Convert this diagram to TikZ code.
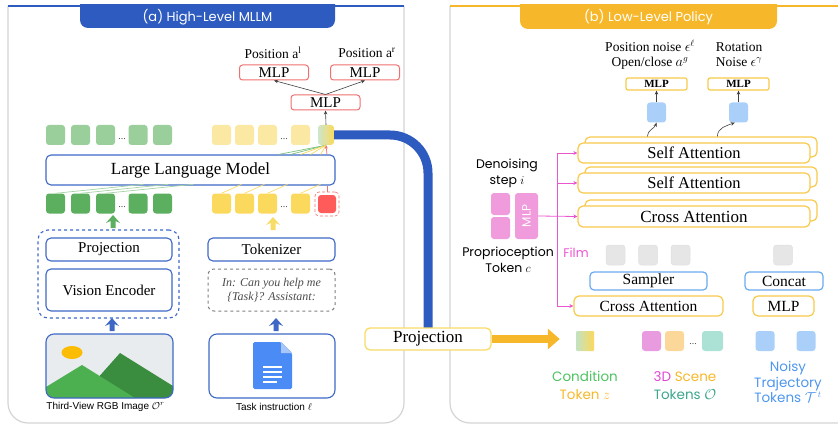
\documentclass[tikz,border=0pt]{standalone}
\usepackage{fontspec}
\setmainfont{Liberation Serif}
\setsansfont{Liberation Sans}
\newfontfamily\popfont{Poppins}
\usepackage{amsmath}
\usepackage{amssymb}
\usepackage{graphicx}
\usepackage{xcolor}
\usetikzlibrary{arrows.meta,calc}
\definecolor{dblue}{HTML}{2E5BBF}
\definecolor{bblue}{HTML}{3D68C6}
\definecolor{dyellow}{HTML}{F6B82A}
\definecolor{byellow}{HTML}{F8C94A}
\definecolor{pyellow}{HTML}{F7DC67}
\definecolor{lgreen}{HTML}{9ACE9A}
\definecolor{dgreen}{HTML}{5BAF5E}
\definecolor{lyellow}{HTML}{FBE8A2}
\definecolor{myellow}{HTML}{FBD95C}
\definecolor{tred}{HTML}{FF5B5B}
\definecolor{rline}{HTML}{F07070}
\definecolor{lblue}{HTML}{AACFF8}
\definecolor{sblue}{HTML}{6AAAF0}
\definecolor{ppink}{HTML}{F09BDC}
\definecolor{filmpink}{HTML}{EC55D2}
\definecolor{panelgray}{HTML}{D4D4D4}
\definecolor{docblue}{HTML}{4B8BF5}
\definecolor{docfold}{HTML}{A7C6FA}
\definecolor{sky}{HTML}{E9ECEF}
\definecolor{sun}{HTML}{FBBC05}
\definecolor{mlight}{HTML}{4CAF50}
\definecolor{mdark}{HTML}{3A8C3E}
\definecolor{cgreen}{HTML}{4DC25F}
\definecolor{cteal}{HTML}{3DA58C}
\definecolor{cmag}{HTML}{E048D2}
\definecolor{cblue}{HTML}{4E96EE}
\definecolor{ggray}{HTML}{E6E6E6}
\definecolor{scmag}{HTML}{E99BE0}
\definecolor{scorg}{HTML}{FCD79A}
\definecolor{scteal}{HTML}{ABE2D5}

\begin{document}
\begin{tikzpicture}[x=1pt, y=-1pt,
    bluebox/.style={draw=bblue, fill=white, line width=1.1pt, rounded corners=5pt, inner sep=0pt, font=\fontsize{15}{15}\selectfont},
    redbox/.style={draw=rline, fill=white, line width=1pt, rounded corners=3pt, inner sep=0pt, minimum width=69pt, minimum height=15pt, font=\fontsize{15}{15}\selectfont},
    yelbox/.style={draw=byellow, fill=white, line width=1.2pt, rounded corners=5pt, inner sep=0pt},
    skybox/.style={draw=sblue, fill=white, line width=1.2pt, rounded corners=4pt, inner sep=0pt, minimum height=18pt, font=\fontsize{15.5}{15.5}\selectfont},
    token/.style={rounded corners=3pt, inner sep=0pt, minimum width=19pt, minimum height=20pt},
    dotsep/.style={font=\fontsize{10}{10}\selectfont, inner sep=0pt, text=black!70},
    lbl/.style={font=\popfont\fontsize{13.5}{18}\selectfont, align=center, inner sep=0pt},
    sfl/.style={font=\popfont\fontsize{12.5}{16}\selectfont, align=center, inner sep=0pt},
    film line/.style={filmpink, line width=0.8pt, -{Stealth[length=4pt,width=4pt]}},
    thin arrow/.style={black!75, line width=0.6pt, -{Stealth[length=4pt,width=3.5pt]}},
    uparr/.pic={\fill[pic actions] (0,-7) -- (7,1) -- (2.5,-1) -- (2.5,6) -- (-2.5,6) -- (-2.5,-1) -- (-7,1) -- cycle;}]
\useasboundingbox (0,0) rectangle (838,425);

% ---- panel frames
\draw[panelgray, line width=1.2pt, rounded corners=20pt] (8,6) -- (8,423) -- (404,423) -- (404,6);
\draw[panelgray, line width=1.2pt, rounded corners=20pt] (840,423) -- (450,423) -- (450,6);
\draw[dblue, line width=2.5pt] (8,6) -- (404,6);
\draw[dyellow, line width=2.5pt] (450,6) -- (838,6);
\begin{scope}
  \clip (0,5) rectangle (838,40);
  \fill[dblue, rounded corners=8pt] (80,-10) rectangle (335,28);
  \fill[dyellow, rounded corners=8pt] (520,-10) rectangle (777,29);
\end{scope}
\node[text=white, font=\popfont\fontsize{13}{13}\selectfont] (ta) at (207.5,17) {(a) High-Level MLLM};
\node[text=white, font=\popfont\fontsize{13}{13}\selectfont] (tb) at (648.5,17.5) {(b) Low-Level Policy};

% ---- (a) high-level MLLM
\node[font=\fontsize{13.5}{13.5}\selectfont] (posl) at (273,53) {Position a\textsuperscript{l}};
\node[font=\fontsize{13.5}{13.5}\selectfont] (posr) at (367,53) {Position a\textsuperscript{r}};
\node[redbox] (mlpl) at (274,72.5) {MLP};
\node[redbox] (mlpr) at (365,72.5) {MLP};
\node[redbox] (mlpm) at (325.5,102.5) {MLP};
\draw[thin arrow] (mlpm.north) -- (mlpl.south);
\draw[thin arrow] (mlpm.north) -- (mlpr.south);

% big link to the low-level policy
\draw[dblue, line width=9pt, rounded corners=38pt] (326,135) -- (428,135) -- (428,329);

\foreach \x [count=\i] in {55.5,80.5,105.5,138,162.5} {
  \node[token, fill=lgreen] (gt\i) at (\x,135) {};
  \node[token, fill=dgreen] (gb\i) at (\x,203.5) {};
}
\foreach \x [count=\i] in {221.5,244.5,267.5,300.5} {
  \node[token, fill=lyellow] (yt\i) at (\x,135) {};
  \node[token, fill=myellow] (yb\i) at (\x,203.5) {};
}
\node[dotsep] at (122,139) {...};
\node[dotsep] at (284,139) {...};
\node[dotsep] at (122,207) {...};
\node[dotsep] at (284,207) {...};
\node[token, minimum width=16pt, left color=lgreen!50, middle color=dgreen!80, right color=myellow] (zt) at (326,135) {};
\node[token, draw=rline, densely dashed, line width=0.6pt, minimum width=24pt, minimum height=24pt, rounded corners=4pt] (rtb) at (327,204) {};
\node[token, fill=tred, minimum width=18pt, minimum height=18pt] (rt) at (327,204) {};

\node[bluebox, minimum width=289pt, minimum height=30pt, font=\fontsize{17}{17}\selectfont] (llm) at (190.5,170) {Large Language Model};

% attention fan
\foreach \i in {1,2,3} \draw[lgreen!90, line width=0.7pt] (gb\i.north) -- ++(88,-9);
\foreach \i in {1,...,4} \draw[myellow!90, line width=0.7pt] (yb\i.north) -- ++(20,-9);
\foreach \d in {57,45} \draw[dgreen!80, line width=0.7pt] ($(llm.north east)+(-\d,0)$) -- (zt.south);
\foreach \d in {35,25,15} \draw[myellow, line width=0.7pt] ($(llm.north east)+(-\d,0)$) -- (zt.south);
\draw[rline, line width=0.7pt] (rtb.north) -- (rtb.north |- llm.south);
\draw[rline, line width=0.7pt, -{Stealth[length=3.5pt,width=3pt]}] (rtb.north |- llm.north) -- (zt.south);
\draw[thin arrow] (zt.north) -- (mlpm.south);

\pic[fill=dgreen] at (113,222) {uparr};
\pic[fill=pyellow] at (273,224) {uparr};
\pic[fill=bblue] at (112,325) {uparr};
\pic[fill=bblue] at (276,325) {uparr};

\node[draw=bblue, dashed, line width=1.1pt, rounded corners=10pt, minimum width=141pt, minimum height=88pt] (vgrp) at (108.5,274) {};
\node[bluebox, minimum width=126pt, minimum height=23pt] (vproj) at (109,249.5) {Projection};
\node[bluebox, minimum width=126pt, minimum height=42pt] (venc) at (109,290) {Vision Encoder};
\node[bluebox, minimum width=127pt, minimum height=23pt] (tokz) at (271.5,249.5) {Tokenizer};
\node[draw=gray, dashed, fill=white, line width=1pt, rounded corners=6pt, minimum width=127pt, minimum height=42pt, align=center,
      text=black!70, font=\itshape\fontsize{12}{14}\selectfont] (prompt) at (271.5,290) {In: Can you help me\\\{Task\}? Assistant:};

% picture icon
\begin{scope}
  \clip[rounded corners=8pt] (46,334) rectangle (173,398);
  \fill[sky] (46,334) rectangle (173,398);
  \fill[sun] (72,352.5) ellipse [x radius=10.5pt, y radius=6.5pt];
  \fill[mdark] (80,398) -- (120,353) -- (173,386) -- (173,398) -- cycle;
  \fill[mlight] (46,387) -- (82,365) -- (135,398) -- (46,398) -- cycle;
\end{scope}
\node[bluebox, fill=none, minimum width=127pt, minimum height=64pt, rounded corners=8pt] (img) at (109.5,366) {};

% document icon
\node[bluebox, minimum width=126pt, minimum height=64pt, rounded corners=8pt] (doc) at (272,366) {};
\fill[docblue, rounded corners=1.5pt] (253,342) -- (281,342) -- (292,353) -- (292,389) -- (253,389) -- cycle;
\fill[docfold] (281,342) -- (292,353) -- (281,353) -- cycle;
\foreach \y/\e in {367/282,372/282,377/282,382/277} \draw[white, line width=1.6pt] (263,\y) -- (\e,\y);

\node[font=\sffamily\fontsize{10}{10}\selectfont] (capi) at (105.5,407) {Third-View RGB Image $\mathcal{O}^r$};
\node[font=\sffamily\fontsize{10}{10}\selectfont] (capd) at (274,407) {Task instruction $\ell$};

% ---- (b) low-level policy
\node[yelbox, draw=pyellow, line width=1.3pt, minimum width=126pt, minimum height=22pt, font=\fontsize{17}{17}\selectfont] (mproj) at (428,339) {Projection};

\node[font=\fontsize{13.5}{15}\selectfont, align=center] (outl) at (650,54.5) {Position noise $\epsilon^{\ell}$\\Open/close $a^{g}$};
\node[font=\fontsize{13.5}{15}\selectfont, align=center] (outr) at (739,55) {Rotation\\Noise $\epsilon^{\gamma}$};
\node[yelbox, rounded corners=2pt, minimum width=61pt, minimum height=12pt, font=\bfseries\fontsize{11}{11}\selectfont] (sm1) at (656.5,84) {MLP};
\node[yelbox, rounded corners=2pt, minimum width=61pt, minimum height=12pt, font=\bfseries\fontsize{11}{11}\selectfont] (sm2) at (738.5,84) {MLP};
\node[token, fill=lblue] (bt1) at (656.5,112.5) {};
\node[token, fill=lblue] (bt2) at (738.5,112.5) {};
\draw[thin arrow] (bt1.north) -- (sm1.south);
\draw[thin arrow] (bt2.north) -- (sm2.south);

% stacked transformer blocks
\node[yelbox, minimum width=232pt, minimum height=20pt] (sa1b) at (701,147) {};
\node[yelbox, minimum width=232pt, minimum height=20pt, font=\fontsize{16.5}{16.5}\selectfont] (sa1) at (694,153) {Self Attention};
\node[yelbox, minimum width=232pt, minimum height=20pt] (sa2b) at (701,177) {};
\node[yelbox, minimum width=232pt, minimum height=20pt, font=\fontsize{16.5}{16.5}\selectfont] (sa2) at (694,183) {Self Attention};
\node[yelbox, minimum width=232pt, minimum height=21pt] (ca1b) at (701,210.5) {};
\node[yelbox, minimum width=232pt, minimum height=21pt, font=\fontsize{17}{17}\selectfont] (ca1) at (694,216.5) {Cross Attention};

\coordinate (w1) at ($(sa1b.north west)+(63,0)$);
\coordinate (w2) at ($(sa1b.north west)+(133,0)$);
\draw[thin arrow] (w1) to[out=90, in=-110] (bt1.south);
\draw[thin arrow] (w2) to[out=90, in=-160] ($(bt2.south west)+(6,0)$);

% conditioning
\node[sfl] (dstep) at (507,173) {Denoising\\step $i$};
\node[token, fill=ppink, minimum width=19pt, minimum height=22pt] (pk1) at (500.5,204) {};
\node[token, fill=ppink, minimum width=19pt, minimum height=22pt] (pk2) at (500.5,228) {};
\node[token, fill=ppink, minimum width=23pt, minimum height=46pt, text=white, font=\popfont\fontsize{12}{12}\selectfont] (pmlp) at (526.5,216) {\rotatebox{90}{MLP}};
\node[sfl] (prop) at (508,259.5) {Proprioception\\Token $c$};
\node[sfl, text=filmpink] (filmlbl) at (576,253) {Film};

\node[yelbox, minimum width=149pt, minimum height=20pt, font=\fontsize{15.5}{15.5}\selectfont] (ca2) at (648.5,306) {Cross Attention};
\node[yelbox, minimum width=61pt, minimum height=20pt, font=\fontsize{15.5}{15.5}\selectfont] (mlp2) at (783.5,306) {MLP};
\node[skybox, minimum width=117pt] (samp) at (648.5,281) {Sampler};
\node[skybox, minimum width=78pt] (cat) at (784,281) {Concat};
\foreach \x [count=\i] in {615.5,648,680.5,783} \node[token, fill=ggray, draw=black!12, line width=0.5pt] (gy\i) at (\x,255) {};

\coordinate (fb) at ($(pmlp.east)!0.5!(ca1.west)$);
\draw[film line] (pmlp.east) -- (ca1.west);
\draw[film line] (fb) |- (sa1.west);
\draw[film line] (fb) |- (sa2.west);
\draw[film line] (fb) |- (ca2.west);

% input tokens
\node[token, minimum width=18pt, rounded corners=1pt, left color=lgreen!60, middle color=dgreen!75, right color=myellow] (ct) at (585,341) {};
\node[token, fill=scmag] (sc1) at (651.5,341) {};
\node[token, fill=scorg] (sc2) at (674.5,341) {};
\node[dotsep] at (693,344) {...};
\node[token, minimum width=21pt, fill=scteal] (sc3) at (712.5,341) {};
\node[token, fill=lblue] (nt1) at (765,341) {};
\node[token, fill=lblue] (nt2) at (806,341) {};

\coordinate (ctin) at ($(ct.west)+(-16,0)$);
\draw[dyellow, line width=8pt, -{Triangle[length=12pt,width=20pt]}] (mproj.east) -- (mproj.east -| ctin);

\node[lbl] (clbl) at (585,385) {\textcolor{cgreen}{Condition}\\\textcolor{dyellow}{Token $z$}};
\node[lbl] (slbl) at (685,386) {\textcolor{cmag}{3D} \textcolor{dyellow}{Scene}\\\textcolor{cteal}{Tokens $\mathcal{O}$}};
\node[lbl, font=\popfont\fontsize{13.5}{15.5}\selectfont, text=cblue] (nlbl) at (788,382) {Noisy\\Trajectory\\Tokens $\mathcal{T}^{\,t}$};
\end{tikzpicture}
\end{document}
